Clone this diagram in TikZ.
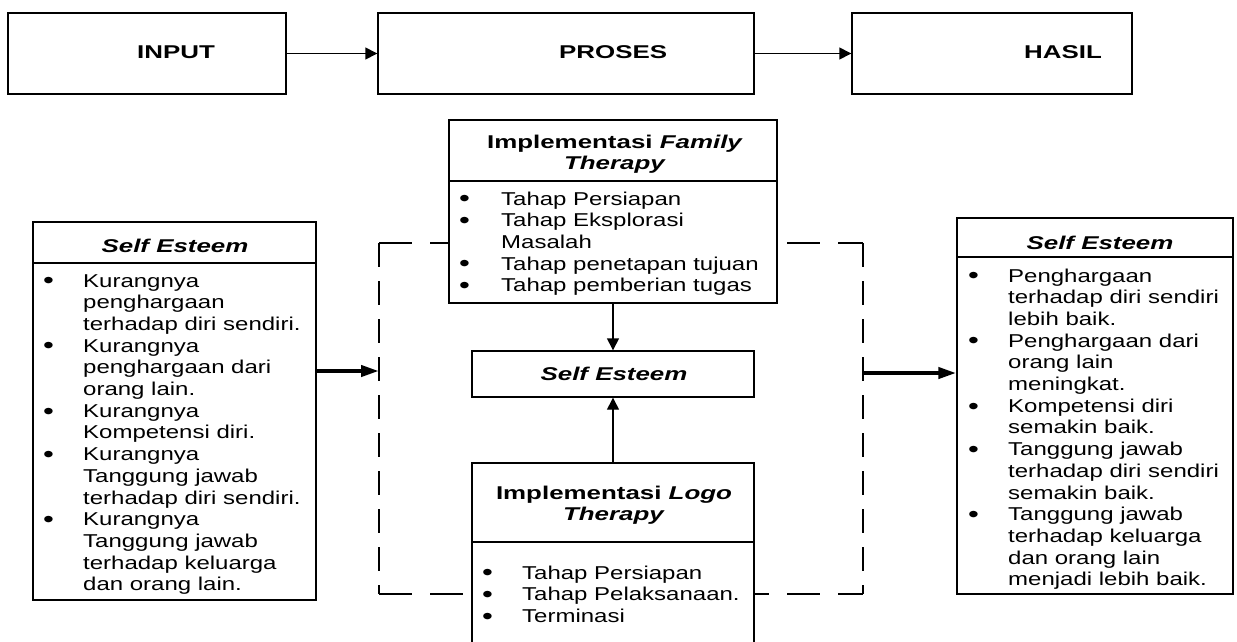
\documentclass[tikz,border=0pt]{standalone}
\usepackage{fontspec}
\setmainfont{Liberation Sans}[FakeStretch=1.29]
\newfontfamily\hfont{Liberation Sans}[FakeStretch=1.4]
\usetikzlibrary{arrows.meta}
\newcommand\bodyfont{\fontsize{18.6pt}{21.7pt}\selectfont}
\newcommand\headfont{\hfont\bfseries\fontsize{18.5pt}{21.7pt}\selectfont}
\newcommand\bigbul{\raisebox{-1.8pt}{\fontsize{24pt}{21.7pt}\selectfont\textbullet}}
\newcommand\bul{\makebox[39pt][l]{\hspace{-1pt}\bigbul}}
\newcommand\bulw{\makebox[41pt][l]{\hspace{-1pt}\bigbul}}
\tikzset{
  box/.style={draw, fill=white, line width=1.4pt, inner sep=0pt},
  lst/.style={anchor=base west, inner sep=0pt, font=\bodyfont},
  ttl/.style={anchor=base, inner sep=0pt, font=\headfont},
  ttlw/.style={anchor=base west, inner sep=0pt, font=\headfont},
  divider/.style={line width=1.4pt},
  hdash/.style={line width=1.5pt, dash pattern=on 33pt off 18pt},
  vdash/.style={line width=1.5pt, dash pattern=on 24pt off 14pt},
  thinarrow/.style={line width=1.4pt, -{Triangle[length=12pt,width=12pt]}},
  thickarrow/.style={line width=4pt, -{Triangle[length=18pt,width=11pt]}}
}
\begin{document}
\begin{tikzpicture}[x=1pt,y=-1pt]
\useasboundingbox (0,0) rectangle (1237,641);
% dashed frame
\draw[hdash] (379,243) -- (863,243);
\draw[hdash] (379,594) -- (863,594);
\draw[vdash] (379,243) -- (379,594);
\draw[vdash] (863,243) -- (863,594);
% top row
\node[box, minimum width=278pt, minimum height=81pt] (input) at (147,53.5) {};
\node[box, minimum width=376pt, minimum height=81pt] (proses) at (566,53.5) {};
\node[box, minimum width=280pt, minimum height=81pt] (hasil) at (992,53.5) {};
\node[ttlw] (tinput) at (137,58) {INPUT};
\node[ttlw] (tproses) at (559,58) {PROSES};
\node[ttlw] (thasil) at (1024,58) {HASIL};
% boxes
\node[box, minimum width=283pt, minimum height=378pt] (leftbox) at (174.5,411) {};
\node[box, minimum width=276pt, minimum height=376pt] (rightbox) at (1095,406) {};
\node[box, minimum width=328pt, minimum height=183pt] (family) at (613,211.5) {};
\node[box, minimum width=282pt, minimum height=46pt] (self) at (613,374) {};
\node[box, minimum width=282pt, minimum height=181pt] (logo) at (613,553.5) {};
% dividers
\draw[divider] (leftbox.west |- 0,263) -- (leftbox.east |- 0,263);
\draw[divider] (rightbox.west |- 0,257) -- (rightbox.east |- 0,257);
\draw[divider] (family.west |- 0,181) -- (family.east |- 0,181);
\draw[divider] (logo.west |- 0,542) -- (logo.east |- 0,542);
% titles
\node[ttl] (tleft) at (175,252) {\itshape Self Esteem};
\node[ttl] (tright) at (1100,249) {\itshape Self Esteem};
\node[ttl] (tfamily) at (615,148) {\begin{tabular}[t]{@{}c@{}}Implementasi \textit{Family}\\ \textit{Therapy}\end{tabular}};
\node[ttl] (tself) at (614,380) {\itshape Self Esteem};
\node[ttl] (tlogo) at (614,499) {\begin{tabular}[t]{@{}c@{}}Implementasi \textit{Logo}\\ \textit{Therapy}\end{tabular}};
% lists
\node[lst] (lleft) at (44,287) {\begin{tabular}[t]{@{}l@{}l@{}}
\bul & Kurangnya\\
 & penghargaan\\
 & terhadap diri sendiri.\\
\bul & Kurangnya\\
 & penghargaan dari\\
 & orang lain.\\
\bul & Kurangnya\\
 & Kompetensi diri.\\
\bul & Kurangnya\\
 & Tanggung jawab\\
 & terhadap diri sendiri.\\
\bul & Kurangnya\\
 & Tanggung jawab\\
 & terhadap keluarga\\
 & dan orang lain.
\end{tabular}};
\node[lst] (lright) at (969,282) {\begin{tabular}[t]{@{}l@{}l@{}}
\bul & Penghargaan\\
 & terhadap diri sendiri\\
 & lebih baik.\\
\bul & Penghargaan dari\\
 & orang lain\\
 & meningkat.\\
\bul & Kompetensi diri\\
 & semakin baik.\\
\bul & Tanggung jawab\\
 & terhadap diri sendiri\\
 & semakin baik.\\
\bul & Tanggung jawab\\
 & terhadap keluarga\\
 & dan orang lain\\
 & menjadi lebih baik.
\end{tabular}};
\node[lst] (lfamily) at (460,205) {\begin{tabular}[t]{@{}l@{}l@{}}
\bulw & Tahap Persiapan\\
\bulw & Tahap Eksplorasi\\
 & Masalah\\
\bulw & Tahap penetapan tujuan\\
\bulw & Tahap pemberian tugas
\end{tabular}};
\node[lst] (llogo) at (483,579) {\begin{tabular}[t]{@{}l@{}l@{}}
\bul & Tahap Persiapan\\
\bul & Tahap Pelaksanaan.\\
\bul & Terminasi
\end{tabular}};
% connectors
\draw[thinarrow] (input) -- (proses);
\draw[thinarrow] (proses) -- (hasil);
\draw[thinarrow] (family) -- (self);
\draw[thinarrow] (logo) -- (self);
\coordinate (dl) at (379,371);
\coordinate (dr) at (863,373);
\draw[thickarrow] (leftbox.east |- dl) -- (dl);
\draw[thickarrow] (dr) -- (rightbox.west |- dr);
\end{tikzpicture}
\end{document}
